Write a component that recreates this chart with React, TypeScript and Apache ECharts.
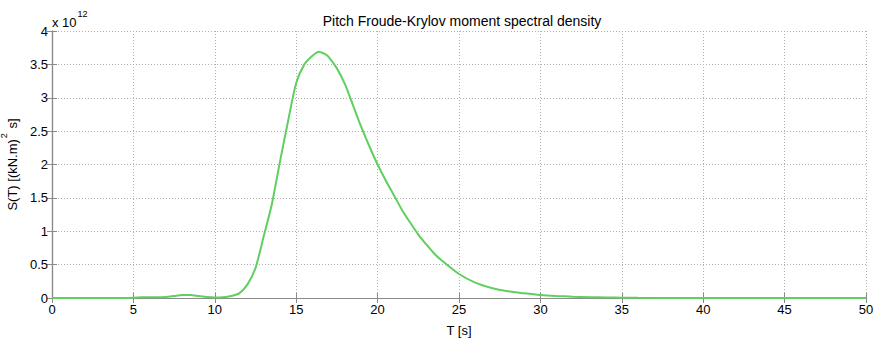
import React, { useEffect, useRef } from "react";
import * as echarts from "echarts";

// Wave period samples [s]
const periods: number[] = [
  0, 1, 2, 3, 4, 5, 5.5, 6, 6.5, 7, 7.5, 8, 8.5, 9, 9.5, 10, 10.5, 11, 11.5, 12,
  12.5, 13, 13.5, 14, 14.5, 15, 15.5, 16, 16.4, 16.8, 17, 17.5, 18, 18.5, 19,
  19.5, 20, 20.5, 21, 21.5, 22, 22.5, 23, 23.5, 24, 25, 26, 27, 28, 29, 30, 31,
  32, 33, 34, 35, 36, 38, 40, 42, 44, 46, 48, 50,
];

// Spectral density, in units of 10^12 (kN.m)^2 s
const density: number[] = [
  0, 0, 0, 0, 0, 0.005, 0.01, 0.012, 0.01, 0.015, 0.03, 0.045, 0.045, 0.03,
  0.015, 0.008, 0.012, 0.03, 0.07, 0.2, 0.45, 0.92, 1.4, 2.04, 2.65, 3.22, 3.5,
  3.63, 3.69, 3.65, 3.61, 3.44, 3.2, 2.88, 2.56, 2.27, 2.0, 1.76, 1.54, 1.32,
  1.13, 0.95, 0.8, 0.66, 0.55, 0.36, 0.23, 0.15, 0.1, 0.07, 0.045, 0.03, 0.02,
  0.012, 0.008, 0.005, 0.002, 0, 0, 0, 0, 0, 0, 0,
];

const xTicks: number[] = [0, 5, 10, 15, 20, 25, 30, 35, 40, 45, 50];
const yTicks: number[] = [0, 0.5, 1, 1.5, 2, 2.5, 3, 3.5, 4];

const titleText = "Pitch Froude-Krylov moment spectral density";
const xName = "T [s]";
const yName = "{a|S(T) [(kN.m)}{b|2}{a| s]}";
const scaleNote = "{a|x 10}{b|12}";

const FONT = "Arial, 'Liberation Sans', sans-serif";
const FRAME = "#8a8a8a";
const INK = "#000000";

export default function App() {
  const ref = useRef<HTMLDivElement>(null);

  useEffect(() => {
    if (!ref.current) return;
    const chart = echarts.init(ref.current, null, { renderer: "svg" });

    const frameAxis = {
      axisLine: { show: true, lineStyle: { color: FRAME, width: 1.2 } },
      axisTick: { show: true, inside: true, length: 5, lineStyle: { color: FRAME } },
    };

    const supRich = {
      a: { fontFamily: FONT, fontSize: 13, color: INK, lineHeight: 20, verticalAlign: "bottom" },
      b: { fontFamily: FONT, fontSize: 9, color: INK, lineHeight: 20, verticalAlign: "top", padding: [0, 1, 0, 1] },
    };

    chart.setOption({
      animation: false,
      backgroundColor: "#ffffff",
      title: {
        text: titleText,
        left: 457,
        top: 9,
        textAlign: "center",
        textStyle: { fontFamily: FONT, fontSize: 14, fontWeight: "normal", color: INK },
      },
      grid: {
        left: 52,
        right: 8,
        top: 31,
        bottom: 40,
        containLabel: false,
        outerBoundsMode: "none",
      },
      graphic: [
        {
          type: "text",
          left: 52,
          top: 9,
          style: { text: scaleNote, rich: supRich },
        },
      ],
      xAxis: [
        {
          type: "value",
          min: 0,
          max: 50,
          interval: 5,
          name: xName,
          nameLocation: "middle",
          nameGap: 26,
          nameTextStyle: { fontFamily: FONT, fontSize: 13, color: INK },
          ...frameAxis,
          axisLabel: {
            fontFamily: FONT,
            fontSize: 13,
            color: INK,
            margin: 5,
            customValues: xTicks,
          },
          splitLine: { show: true, lineStyle: { color: "#b0b0b0", type: [1, 2], width: 1 } },
        },
        {
          type: "value",
          position: "top",
          min: 0,
          max: 50,
          interval: 5,
          ...frameAxis,
          axisLabel: { show: false },
          splitLine: { show: false },
        },
      ],
      yAxis: [
        {
          type: "value",
          min: 0,
          max: 4,
          interval: 0.5,
          name: yName,
          nameLocation: "middle",
          nameRotate: 90,
          nameGap: 32,
          nameTextStyle: { rich: supRich },
          ...frameAxis,
          axisLabel: {
            fontFamily: FONT,
            fontSize: 13,
            color: INK,
            margin: 4,
            customValues: yTicks,
            formatter: (v: number) => String(v),
          },
          splitLine: { show: true, lineStyle: { color: "#b0b0b0", type: [1, 2], width: 1 } },
        },
        {
          type: "value",
          position: "right",
          min: 0,
          max: 4,
          interval: 0.5,
          ...frameAxis,
          axisLabel: { show: false },
          splitLine: { show: false },
        },
      ],
      series: [
        {
          type: "line",
          xAxisIndex: 0,
          yAxisIndex: 0,
          data: periods.map((t, i) => [t, density[i]]),
          showSymbol: false,
          smooth: 0.25,
          lineStyle: { color: "#5fcf5f", width: 2 },
          z: 5,
        },
      ],
    });

    return () => chart.dispose();
  }, []);

  return (
    <div
      ref={ref}
      style={{ position: "absolute", left: 0, top: 0, width: 874, height: 338 }}
    />
  );
}
